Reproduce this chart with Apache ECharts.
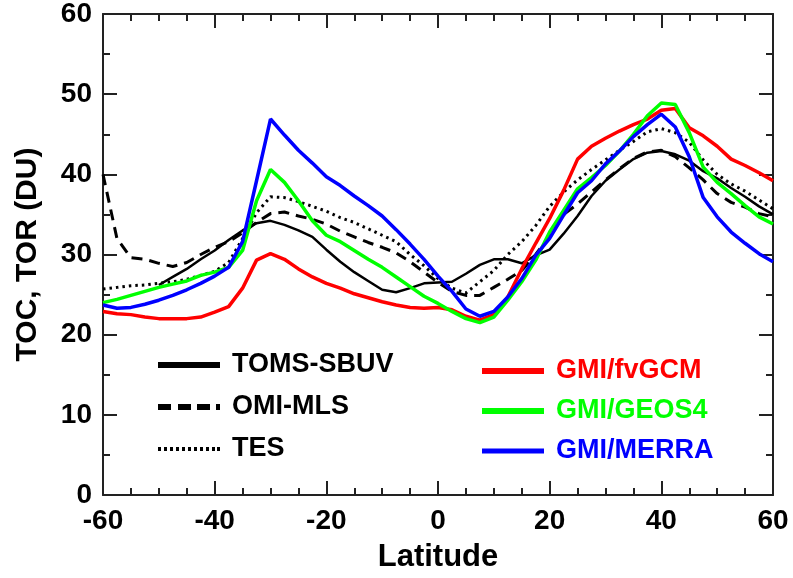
<!DOCTYPE html>
<html>
<head>
<meta charset="utf-8">
<script src="https://cdn.jsdelivr.net/npm/echarts@6/dist/echarts.min.js"></script>
<style>
html,body{margin:0;padding:0;background:#fff;}
#chart{width:793px;height:578px;}
</style>
</head>
<body>
<div id="chart"></div>
<script>
const latitudes = [-60,-57.5,-55,-52.5,-50,-47.5,-45,-42.5,-40,-37.5,-35,-32.5,-30,-27.5,-25,-22.5,-20,-17.5,-15,-12.5,-10,-7.5,-5,-2.5,0,2.5,5,7.5,10,12.5,15,17.5,20,22.5,25,27.5,30,32.5,35,37.5,40,42.5,45,47.5,50,52.5,55,57.5,60];

const tomsSbuv = [null,null,null,null,26.2,27.2,28.2,29.4,30.5,31.8,33.0,33.9,34.2,33.7,33.0,32.2,30.6,29.1,27.8,26.7,25.6,25.3,25.8,26.4,26.5,26.6,27.6,28.7,29.4,29.4,28.9,29.9,30.6,32.6,34.8,37.3,39.2,40.6,41.9,42.7,42.9,42.5,41.7,40.4,39.5,38.3,37.2,36.0,35.0];
const omiMls = [40.0,32.0,29.6,29.4,28.9,28.5,29.0,30.0,30.9,31.6,32.7,34.0,35.1,35.3,34.8,34.4,33.8,32.9,32.2,31.5,30.9,30.2,29.1,27.8,26.5,25.4,24.9,24.9,25.9,26.9,28.0,30.0,32.4,35.0,36.3,37.8,39.3,40.7,42.0,42.8,43.0,42.2,40.8,39.3,37.6,36.5,35.9,35.1,34.7];
const tes = [25.7,25.9,26.1,26.2,26.4,26.6,26.9,27.4,27.9,29.0,32.0,35.2,37.2,37.1,36.6,36.0,35.4,34.6,34.0,33.2,32.4,31.6,30.0,28.6,27.0,25.8,25.2,26.6,28.0,30.0,31.6,33.6,36.0,37.8,39.3,40.6,41.8,43.0,44.1,45.3,45.7,45.2,44.0,41.8,40.0,38.8,37.9,36.8,35.7];
const gmiFvgcm = [22.9,22.6,22.5,22.2,22.0,22.0,22.0,22.2,22.8,23.5,25.8,29.3,30.1,29.4,28.2,27.2,26.4,25.8,25.1,24.6,24.1,23.7,23.4,23.3,23.4,23.1,22.3,21.8,22.5,24.7,28.2,31.4,34.5,38.0,41.9,43.5,44.5,45.4,46.2,46.9,48.0,48.2,45.8,44.8,43.5,41.9,41.1,40.2,39.2];
const gmiGeos4 = [24.0,24.4,24.9,25.4,25.9,26.3,26.7,27.4,27.8,28.4,30.5,36.7,40.6,39.0,36.7,34.2,32.4,31.6,30.5,29.4,28.4,27.2,26.0,24.8,23.9,22.9,22.0,21.5,22.2,24.3,26.6,29.3,32.8,35.5,38.2,39.6,41.1,42.9,45.0,47.3,48.9,48.7,45.2,40.9,39.0,37.6,36.1,34.7,33.8];
const gmiMerra = [23.7,23.3,23.4,23.8,24.3,24.9,25.6,26.4,27.3,28.4,31.6,39.2,46.9,44.9,43.0,41.4,39.7,38.6,37.3,36.1,34.8,33.1,31.3,29.4,27.3,25.4,23.2,22.3,22.9,24.7,27.0,29.9,32.0,34.9,37.7,39.2,41.3,42.9,44.7,46.2,47.5,45.9,42.2,37.1,34.7,32.8,31.4,30.1,29.1];

const xTicks = [-60,-40,-20,0,20,40,60];
const yTicks = [0,10,20,30,40,50,60];

function pairs(vals){ return latitudes.map((lat,i)=>[lat, vals[i]]); }

const FONT = '"Liberation Sans", Arial, Helvetica, sans-serif';
const axisColor = '#222';

const chart = echarts.init(document.getElementById('chart'), null, {renderer:'canvas'});

function xAxisCfg(pos, showLabel){
  return {
    type:'value', position:pos, min:-60, max:60, interval:20,
    name: showLabel ? 'Latitude' : '', nameLocation:'middle', nameGap:47,
    nameTextStyle:{fontFamily:FONT, fontWeight:'bold', fontSize:31, color:'#000'},
    axisLine:{show:true, onZero:false, lineStyle:{color:axisColor, width:2}},
    axisTick:{show:true, inside:true, length:14, lineStyle:{color:axisColor, width:2}},
    minorTick:{show:true, splitNumber:4, length:7, lineStyle:{color:axisColor, width:2}},
    axisLabel:{show:showLabel, margin:12, fontFamily:FONT, fontWeight:'bold', fontSize:28, color:'#000',
      formatter:(v)=> xTicks.includes(v) ? String(v) : ''},
    splitLine:{show:false}, minorSplitLine:{show:false}
  };
}
function yAxisCfg(pos, showLabel){
  return {
    type:'value', position:pos, min:0, max:60, interval:10,
    name: showLabel ? 'TOC, TOR (DU)' : '', nameLocation:'middle', nameGap:60,
    nameTextStyle:{fontFamily:FONT, fontWeight:'bold', fontSize:30, color:'#000'},
    axisLine:{show:true, onZero:false, lineStyle:{color:axisColor, width:2}},
    axisTick:{show:true, inside:true, length:14, lineStyle:{color:axisColor, width:2}},
    minorTick:{show:true, splitNumber:2, length:7, lineStyle:{color:axisColor, width:2}},
    axisLabel:{show:showLabel, margin:11, fontFamily:FONT, fontWeight:'bold', fontSize:28, color:'#000',
      formatter:(v)=> yTicks.includes(v) ? String(v) : ''},
    splitLine:{show:false}, minorSplitLine:{show:false}
  };
}

function lineSeries(name, vals, color, width, type, z){
  return {
    name, type:'line', data:pairs(vals), xAxisIndex:0, yAxisIndex:0,
    symbol:'none', showSymbol:false, smooth:false, connectNulls:false, z:z,
    lineStyle:{color, width, type},
    itemStyle:{color},
    emphasis:{disabled:true}
  };
}

const legendText = {fontFamily:FONT, fontWeight:'bold', fontSize:27, lineHeight:28, padding:[0,0,0,7]};
const ICON_SOLID = 'path://M0 0H62V6H0Z';
const ICON_DASH = 'path://M0 0H13V6H0Z M20 0H33V6H20Z M39 0H52V6H39Z M58 0H62V6H58Z';
const ICON_DOT = 'path://M0 0H3V4H0Z M6 0H9V4H6Z M12 0H15V4H12Z M18 0H21V4H18Z M24 0H27V4H24Z M30 0H33V4H30Z M36 0H39V4H36Z M42 0H45V4H42Z M48 0H51V4H48Z M54 0H57V4H54Z M59 0H62V4H59Z';
const ICON_THIN = 'path://M0 0H62V5H0Z';

chart.setOption({
  animation:false,
  backgroundColor:'#fff',
  grid:{left:103, right:20, top:13, bottom:82, containLabel:false},
  xAxis:[xAxisCfg('bottom', true), xAxisCfg('top', false)],
  yAxis:[yAxisCfg('left', true), yAxisCfg('right', false)],
  legend:[
    {
      orient:'vertical', left:153, top:346, itemWidth:62, itemHeight:6, itemGap:14,
      selectedMode:false,
      textStyle:Object.assign({color:'#000'}, legendText),
      data:[
        {name:'TOMS-SBUV', icon:ICON_SOLID},
        {name:'OMI-MLS', icon:ICON_DASH},
        {name:'TES', icon:ICON_DOT}
      ]
    },
    {
      orient:'vertical', left:477, top:352, itemWidth:62, itemHeight:6, itemGap:12,
      selectedMode:false,
      textStyle:legendText,
      data:[
        {name:'GMI/fvGCM', icon:ICON_SOLID, textStyle:{color:'#ff0000'}},
        {name:'GMI/GEOS4', icon:ICON_SOLID, textStyle:{color:'#00ff00'}},
        {name:'GMI/MERRA', icon:ICON_THIN, textStyle:{color:'#0000ff'}}
      ]
    }
  ],
  series:[
    lineSeries('TOMS-SBUV', tomsSbuv, '#000000', 2.5, 'solid', 3),
    lineSeries('OMI-MLS', omiMls, '#000000', 3, [11,7], 3),
    lineSeries('TES', tes, '#000000', 3, [2.5,4], 3),
    lineSeries('GMI/fvGCM', gmiFvgcm, '#ff0000', 3.5, 'solid', 4),
    lineSeries('GMI/GEOS4', gmiGeos4, '#00ff00', 3.5, 'solid', 5),
    lineSeries('GMI/MERRA', gmiMerra, '#0000ff', 3.5, 'solid', 6)
  ]
});
</script>
</body>
</html>
